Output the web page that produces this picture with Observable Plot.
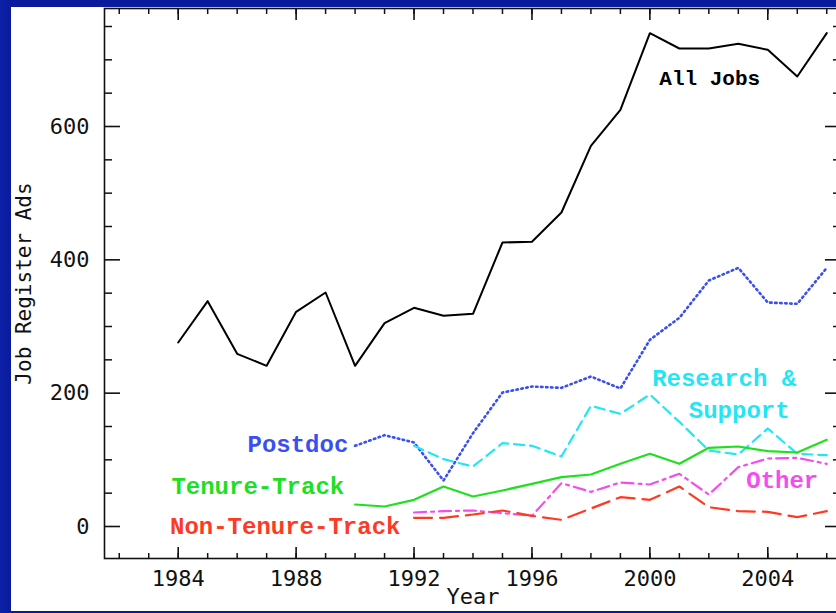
<!DOCTYPE html>
<html><head><meta charset="utf-8">
<script src="https://cdn.jsdelivr.net/npm/d3@7"></script>
<script src="https://cdn.jsdelivr.net/npm/@observablehq/plot@0.6"></script>
<style>
html,body{margin:0;padding:0;}
body{width:836px;height:613px;background:linear-gradient(90deg,#0d22a8 0px,#0a1a9c 11px,#0a1a9c 100%);position:relative;overflow:hidden;}
#chart{position:absolute;left:11px;top:7px;width:825px;height:604px;background:#fff;overflow:hidden;}
#chart svg{max-width:none !important;display:block;}
</style></head><body><div id="chart"></div>
<script>
// ---- data ----
const years = [1984,1985,1986,1987,1988,1989,1990,1991,1992,1993,1994,1995,1996,1997,1998,1999,2000,2001,2002,2003,2004,2005,2006];
const allJobs = [276,338,259,241,322,351,241,305,328,316,319,426,427,471,571,625,740,717,717,724,715,675,740];
const yearsFrom1990 = [1990,1991,1992,1993,1994,1995,1996,1997,1998,1999,2000,2001,2002,2003,2004,2005,2006];
const postdoc = [121,137,126,69,140,201,210,208,225,207,280,313,369,388,336,334,388];
const tenureTrack = [33,30,40,60,45,54,64,74,78,94,109,94,118,120,113,111,130];
const yearsFrom1992 = [1992,1993,1994,1995,1996,1997,1998,1999,2000,2001,2002,2003,2004,2005,2006];
const research = [121,101,90,125,121,105,181,169,198,157,114,108,147,109,107];
const other = [21,23,24,20,16,65,52,66,63,79,48,89,102,103,94];
const nonTenure = [13,13,18,24,16,10,27,44,40,60,29,23,22,14,23];

const xMajorTicks = [1984,1988,1992,1996,2000,2004];
const xMinorTicks = [1982,1983,1984,1985,1986,1987,1988,1989,1990,1991,1992,1993,1994,1995,1996,1997,1998,1999,2000,2001,2002,2003,2004,2005,2006];
const yMajorTicks = [0,200,400,600];
const yMinorTicks = [50,100,150,250,300,350,450,500,550,650,700,750];

// series labels, anchored in data units (year, ads)
const seriesLabels = [
  {text:"All Jobs", x:2002.03, y:672, color:"#000000", size:21},
  {text:"Postdoc", x:1988.06, y:124, color:"#3a4ff0", size:24},
  {text:"Tenure-Track", x:1986.70, y:60, color:"#1ee01e", size:24},
  {text:"Non-Tenure-Track", x:1987.63, y:1, color:"#ff3a24", size:24},
  {text:"Research &", x:2002.52, y:223, color:"#22e6f5", size:24},
  {text:"Support", x:2003.03, y:174, color:"#22e6f5", size:24},
  {text:"Other", x:2004.49, y:69, color:"#f54cf0", size:24}
];

const toRows = (xs, vs) => xs.map((x, i) => ({year: x, value: vs[i]}));

const W = 840, H = 604, mL = 93, mR = 10, mT = 1, mB = 53;
const pw = W - mL - mR, ph = H - mT - mB;
const ink = "#111";
const labelFont = "Liberation Mono";

const chart = Plot.plot({
  width: W, height: H,
  marginLeft: mL, marginRight: mR, marginTop: mT, marginBottom: mB,
  x: {domain: [1981.5, 2006.5]},
  y: {domain: [-48, 777]},
  style: {fontFamily: "DejaVu Sans Mono", fontSize: "22px", background: "white", color: ink, maxWidth: "none"},
  marks: [
    Plot.frame({stroke: ink, strokeWidth: 1.6}),
    // inward ticks: bottom
    Plot.ruleX(xMinorTicks, {insetTop: ph - 5, stroke: ink, strokeWidth: 1.5}),
    Plot.ruleX(xMajorTicks, {insetTop: ph - 11, stroke: ink, strokeWidth: 1.6}),
    // top
    Plot.ruleX(xMinorTicks, {insetBottom: ph - 6, stroke: ink, strokeWidth: 1.5}),
    Plot.ruleX(xMajorTicks, {insetBottom: ph - 12, stroke: ink, strokeWidth: 1.6}),
    // left
    Plot.ruleY(yMinorTicks, {insetRight: pw - 8, stroke: ink, strokeWidth: 1.5}),
    Plot.ruleY(yMajorTicks, {insetRight: pw - 16, stroke: ink, strokeWidth: 1.6}),
    // right
    Plot.ruleY(yMinorTicks, {insetLeft: pw - 8, stroke: ink, strokeWidth: 1.5}),
    Plot.ruleY(yMajorTicks, {insetLeft: pw - 16, stroke: ink, strokeWidth: 1.6}),
    Plot.axisX({ticks: xMajorTicks, tickSize: 0, tickPadding: 12, tickFormat: d => String(d), label: null, fontSize: 22, fill: ink}),
    Plot.axisY({ticks: yMajorTicks, tickSize: 0, tickPadding: 15, tickFormat: d => String(d), label: null, fontSize: 22, fill: ink}),
    Plot.text(["Year"], {frameAnchor: "bottom", dy: 38, lineAnchor: "middle", fontSize: 22, fill: ink}),
    Plot.text(["Job Register Ads"], {frameAnchor: "left", rotate: -90, dx: -80, textAnchor: "middle", lineAnchor: "middle", fontSize: 21, fill: ink}),
    // series
    Plot.line(toRows(years, allJobs), {x: "year", y: "value", stroke: "#000", strokeWidth: 2}),
    Plot.line(toRows(yearsFrom1990, postdoc), {x: "year", y: "value", stroke: "#3a4ff0", strokeWidth: 2.6, strokeDasharray: "1.5,3.5", strokeLinecap: "round"}),
    Plot.line(toRows(yearsFrom1992, research), {x: "year", y: "value", stroke: "#22e6f5", strokeWidth: 2.2, strokeDasharray: "10,6"}),
    Plot.line(toRows(yearsFrom1990, tenureTrack), {x: "year", y: "value", stroke: "#1ee01e", strokeWidth: 2.2}),
    Plot.line(toRows(yearsFrom1992, other), {x: "year", y: "value", stroke: "#f54cf0", strokeWidth: 2.2, strokeDasharray: "12,5,3,5"}),
    Plot.line(toRows(yearsFrom1992, nonTenure), {x: "year", y: "value", stroke: "#ff3a24", strokeWidth: 2.2, strokeDasharray: "18,8"}),
    ...seriesLabels.map(l => Plot.text([l], {x: "x", y: "y", text: "text", fill: l.color, fontSize: l.size, fontFamily: labelFont, fontWeight: "bold", textAnchor: "middle", lineAnchor: "middle"}))
  ]
});
document.getElementById("chart").appendChild(chart);
</script>
</body></html>
